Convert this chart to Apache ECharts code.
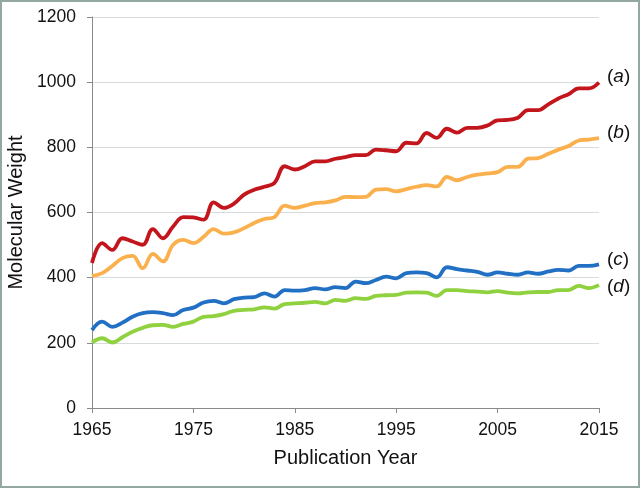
<!DOCTYPE html>
<html>
<head>
<meta charset="utf-8">
<script src="https://cdn.jsdelivr.net/npm/echarts@6/dist/echarts.min.js"></script>
<style>
  html, body { margin: 0; padding: 0; background: #fff; }
  #chart { width: 636px; height: 484px; border: 2px solid #93a8a3; }
</style>
</head>
<body>
<div id="chart"></div>
<script>
// publication years 1965..2015
var years = [1965,1966,1967,1968,1969,1970,1971,1972,1973,1974,1975,1976,1977,1978,1979,1980,
  1981,1982,1983,1984,1985,1986,1987,1988,1989,1990,1991,1992,1993,1994,1995,1996,1997,1998,
  1999,2000,2001,2002,2003,2004,2005,2006,2007,2008,2009,2010,2011,2012,2013,2014,2015];

var seriesA = [445,506,485,521,511,501,549,521,557,586,585,578,631,614,627,655,
  670,679,691,742,732,742,757,757,765,770,776,776,793,791,788,814,812,844,
  829,857,845,860,860,867,883,884,891,914,914,932,950,963,981,981,999];
var seriesB = [405,414,436,460,467,429,473,450,501,516,506,525,549,535,539,552,
  568,580,586,621,614,621,629,631,637,648,647,648,670,672,665,672,679,684,
  680,709,699,709,716,720,724,740,740,765,767,780,793,804,821,824,828];
var seriesC = [239,265,249,262,280,291,294,291,285,301,308,324,329,321,334,339,
  340,352,342,362,360,362,368,364,371,368,388,383,393,403,398,414,416,414,
  401,432,426,422,418,409,416,412,409,416,412,419,424,422,436,436,441];
var seriesD = [201,214,201,217,234,246,254,255,249,258,265,280,282,288,298,301,
  303,309,305,319,321,323,326,321,332,329,337,335,344,346,347,354,355,354,
  344,362,362,359,357,355,359,354,352,355,356,356,362,362,375,368,377];

var names = ['a', 'b', 'c', 'd'];
var values = [seriesA, seriesB, seriesC, seriesD];
var colors = ['#c3161c', '#fbb04e', '#2270c4', '#8fd13f'];
var labelOffsets = [[4, -6], [4, -5], [4, -5], [4, 2]];

var myChart = echarts.init(document.getElementById('chart'));

var option = {
  animation: false,
  grid: {
    left: 90, right: 39, top: 15, bottom: 78,
    containLabel: false,
    outerBoundsMode: 'none'
  },
  xAxis: {
    type: 'value',
    min: 1965,
    max: 2015,
    interval: 10,
    name: 'Publication Year',
    nameLocation: 'middle',
    nameGap: 40,
    nameTextStyle: { fontFamily: 'Liberation Sans', fontSize: 20, color: '#111' },
    axisLine: { show: true, lineStyle: { color: '#8a8a8a', width: 1 } },
    axisTick: { show: true, length: 5, lineStyle: { color: '#8a8a8a' } },
    axisLabel: { fontFamily: 'Liberation Sans', fontSize: 17.5, color: '#111', margin: 13,
      formatter: function (v) { return String(v); } },
    splitLine: { show: false }
  },
  yAxis: {
    type: 'value',
    min: 0,
    max: 1200,
    interval: 200,
    name: 'Molecular Weight',
    nameLocation: 'middle',
    nameGap: 60,
    nameTextStyle: { fontFamily: 'Liberation Sans', fontSize: 20, color: '#111' },
    axisLine: { show: true, lineStyle: { color: '#8a8a8a', width: 1 } },
    axisTick: { show: true, length: 5, lineStyle: { color: '#8a8a8a' } },
    axisLabel: { fontFamily: 'Liberation Sans', fontSize: 17.5, color: '#111', margin: 16,
      formatter: function (v) { return String(v); } },
    splitLine: { show: true, lineStyle: { color: '#d6dcdc', width: 1 } }
  },
  series: names.map(function (n, i) {
    return {
      name: n,
      type: 'line',
      smooth: 0.4,
      showSymbol: false,
      data: years.map(function (y, k) { return [y, values[i][k]]; }),
      lineStyle: { color: colors[i], width: 3.8 },
      itemStyle: { color: colors[i] },
      endLabel: {
        show: true,
        distance: 4,
        offset: labelOffsets[i],
        formatter: '({i|' + n + '})',
        fontFamily: 'Liberation Sans',
        fontSize: 19,
        color: '#111',
        rich: { i: { fontStyle: 'italic', fontFamily: 'Liberation Sans', fontSize: 19, color: '#111' } }
      }
    };
  })
};
myChart.setOption(option);
</script>
</body>
</html>
